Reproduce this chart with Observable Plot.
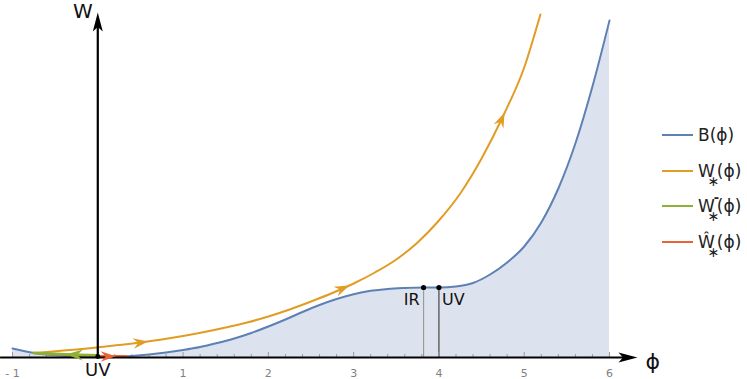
<!DOCTYPE html>
<html><head><meta charset="utf-8">
<script src="https://cdn.jsdelivr.net/npm/d3@7"></script>
<script src="https://cdn.jsdelivr.net/npm/@observablehq/plot@0.6"></script>
<style>
body{margin:0;background:#fff;}
#wrap{position:relative;width:747px;height:379px;font-family:"DejaVu Sans",sans-serif;}
#legend{position:absolute;left:662px;top:0;width:85px;height:379px;}
.row{position:absolute;left:0;height:30px;display:flex;align-items:center;white-space:nowrap;}
.sw{width:31px;height:2px;margin-right:5px;}
.lab{font-size:17px;color:#222;line-height:18px;white-space:nowrap;}
.ast{display:inline-block;position:relative;width:2px;height:17px;vertical-align:top;}
.ast .b{position:absolute;left:-7px;top:12px;font-size:14px;line-height:14px;}
.ast .a{position:absolute;left:-1px;top:-6px;font-size:13px;line-height:13px;font-weight:bold;}
</style></head><body><div id="wrap"><div id="legend"></div></div>
<script>
// ---- data ----
const phiB = [-1, -0.75, -0.5, -0.25, 0, 0.2, 0.4, 0.6, 0.8, 1.0, 1.2, 1.4, 1.6, 1.8, 2.0, 2.2, 2.4, 2.6, 2.8, 3.0, 3.2, 3.4, 3.6, 3.82, 4.0, 4.2, 4.4, 4.6, 4.8, 5.0, 5.2, 5.4, 5.6, 5.8, 6.0];
const valB = [0.09, 0.045, 0.022, 0.01, 0.005, 0.005, 0.015, 0.03, 0.05, 0.075, 0.105, 0.145, 0.19, 0.245, 0.31, 0.38, 0.455, 0.525, 0.585, 0.633, 0.667, 0.686, 0.695, 0.70, 0.70, 0.71, 0.745, 0.83, 0.95, 1.11, 1.35, 1.69, 2.14, 2.71, 3.37];

const phiW = [-0.73, -0.5, -0.25, 0, 0.25, 0.5, 0.75, 1.0, 1.25, 1.5, 1.75, 2.0, 2.25, 2.5, 2.75, 3.0, 3.25, 3.5, 3.75, 4.0, 4.25, 4.5, 4.75, 5.0, 5.19];
const valW = [0.045, 0.062, 0.08, 0.10, 0.125, 0.15, 0.18, 0.215, 0.255, 0.30, 0.35, 0.41, 0.48, 0.56, 0.645, 0.74, 0.85, 0.98, 1.15, 1.37, 1.64, 1.99, 2.41, 2.90, 3.43];

// W^-_* flows from phi=0 to the left
const phiWm = [0, -0.25, -0.5, -0.75];
const valWm = [0.02, 0.027, 0.035, 0.045];

// hat W_* flows from phi=0 to the right
const phiWh = [0, 0.15, 0.33];
const valWh = [0.01, 0.011, 0.012];

// arrow tips along flows
const arrowPhiW = [0.59, 2.95, 4.77];
const arrowPhiWm = [-0.375];
const arrowPhiWh = [0.21];

// special points
const pointLabels = ["IR", "UV"];
const pointPhi = [3.82, 4.0];
const pointW = [0.70, 0.70];
const originPoint = [0, 0.01];

// axes
const xAxisExtent = [-1.14, 6.328];
const yAxisExtent = [0, 3.45];
const majorTicks = [-1, 1, 2, 3, 4, 5, 6];
const minorTicks = d3.range(-1, 6.001, 0.2).map(v => +v.toFixed(1)).filter(v => Math.abs(v - Math.round(v)) > 1e-6);

const colors = {B: "#5e81b5", W: "#e19c24", Wm: "#8fb032", Wh: "#eb6235"};

const zip = (xs, ys) => xs.map((x, i) => ({x, y: ys[i]}));
const dataB = zip(phiB, valB), dataW = zip(phiW, valW), dataWm = zip(phiWm, valWm), dataWh = zip(phiWh, valWh);
const points = pointLabels.map((label, i) => ({label, x: pointPhi[i], y: pointW[i]}));

function arrowSymbol(L, W, notch) {
  return {draw(ctx) { ctx.moveTo(0, 0); ctx.lineTo(-L, -W / 2); ctx.lineTo(-L + notch, 0); ctx.lineTo(-L, W / 2); ctx.closePath(); }};
}
const flowArrow = arrowSymbol(15, 10.5, 5);
const bigFlowArrow = arrowSymbol(17, 11, 5.5);
const axisArrow = arrowSymbol(19, 10, 4.5);

function segIndex(xs, phi) {
  for (let i = 0; i < xs.length - 1; i++) if ((xs[i] - phi) * (xs[i + 1] - phi) <= 0) return i;
  return xs.length - 2;
}
function interp(xs, ys, phi) {
  const i = segIndex(xs, phi); const t = (phi - xs[i]) / (xs[i + 1] - xs[i]);
  return ys[i] + t * (ys[i + 1] - ys[i]);
}

const curve = "monotone-x";

function baseMarks() {
  return [
    Plot.areaY(dataB, {x: "x", y: "y", fill: "#dde3ee", curve}),
    Plot.ruleX(points, {x: "x", y1: 0, y2: "y", stroke: (d) => d.label, strokeWidth: 1.2}),
    Plot.axisX(minorTicks, {tickSize: 3, dy: -3, tickFormat: () => "", stroke: "#999", label: null}),
    Plot.axisX(majorTicks, {tickSize: 5, dy: -5, tickFormat: () => "", stroke: "#999", label: null}),
    Plot.text(majorTicks, {x: (d) => d, y: 0, text: (d) => d < 0 ? "- " + Math.abs(d) : String(d), dy: 16, fill: "#808080", fontSize: 11}),
    Plot.line(dataB, {x: "x", y: "y", stroke: colors.B, strokeWidth: 2, curve}),
    Plot.line(dataW, {x: "x", y: "y", stroke: colors.W, strokeWidth: 2, curve}),
    Plot.line(dataWm, {x: "x", y: "y", stroke: colors.Wm, strokeWidth: 2.8, curve}),
    Plot.line(dataWh, {x: "x", y: "y", stroke: colors.Wh, strokeWidth: 2.8, curve}),
    Plot.ruleY([0], {x1: xAxisExtent[0], x2: xAxisExtent[1] - 0.08, stroke: "black", strokeWidth: 2.2}),
    Plot.ruleX([0], {y1: yAxisExtent[0], y2: yAxisExtent[1] - 0.12, stroke: "black", strokeWidth: 2.2}),
    Plot.dot(points, {x: "x", y: "y", r: 2.6, fill: "black"}),
    Plot.dot([originPoint], {x: (d) => d[0], y: (d) => d[1], r: 2.4, fill: "black"}),
    Plot.text(points.slice(0, 1), {x: "x", y: "y", text: "label", textAnchor: "end", dx: -4, dy: 12, fontSize: 16, fill: "#111"}),
    Plot.text(points.slice(1), {x: "x", y: "y", text: "label", textAnchor: "start", dx: 3, dy: 12, fontSize: 16, fill: "#111"}),
    Plot.text(["UV"], {x: 0, y: 0, text: (d) => d, dy: 13, fontSize: 18, fill: "#111"}),
    Plot.text(["W"], {x: 0, y: yAxisExtent[1], text: (d) => d, textAnchor: "end", dx: -5, dy: -1, fontSize: 20, fill: "#111"}),
    Plot.text(["ϕ"], {x: xAxisExtent[1], y: 0, text: (d) => d, textAnchor: "start", dx: 8, dy: 4, fontSize: 22, fill: "#111"})
  ];
}

const config = (marks) => ({
  width: 747, height: 379,
  marginLeft: 12, marginRight: 138, marginTop: 12, marginBottom: 22,
  x: {domain: [-1, 6], axis: null},
  y: {domain: [0, 3.45], axis: null},
  color: {domain: ["IR", "UV"], range: ["#9a9a9a", "#444"]},
  style: {fontFamily: "DejaVu Sans, sans-serif", background: "transparent", overflow: "visible"},
  marks
});

// first pass: obtain the scales
const probe = Plot.plot(config(baseMarks()));
const lin = (s) => (v) => s.range[0] + (v - s.domain[0]) / (s.domain[1] - s.domain[0]) * (s.range[1] - s.range[0]);
const sx = lin(probe.scale("x")), sy = lin(probe.scale("y"));

function arrowsOn(xs, ys, phis) {
  return phis.map((phi) => {
    const i = segIndex(xs, phi);
    const dx = sx(xs[i + 1]) - sx(xs[i]), dy = sy(ys[i + 1]) - sy(ys[i]);
    return {x: phi, y: interp(xs, ys, phi), angle: Math.atan2(dy, dx) * 180 / Math.PI};
  });
}
const axisTips = [
  {x: xAxisExtent[1], y: 0, angle: 0},
  {x: 0, y: yAxisExtent[1], angle: -90}
];

const marks = baseMarks().concat([
  Plot.dot(arrowsOn(phiW, valW, arrowPhiW), {x: "x", y: "y", rotate: "angle", symbol: flowArrow, fill: colors.W, stroke: "none", r: 5}),
  Plot.dot(arrowsOn(phiWm, valWm, arrowPhiWm), {x: "x", y: "y", rotate: "angle", symbol: bigFlowArrow, fill: colors.Wm, stroke: "none", r: 5}),
  Plot.dot(arrowsOn(phiWh, valWh, arrowPhiWh), {x: "x", y: "y", rotate: "angle", symbol: flowArrow, fill: colors.Wh, stroke: "none", r: 5}),
  Plot.dot(axisTips, {x: "x", y: "y", rotate: "angle", symbol: axisArrow, fill: "black", stroke: "none", r: 5})
]);

const chart = Plot.plot(config(marks));
chart.style.position = "absolute";
chart.style.left = "0";
chart.style.top = "0";
document.getElementById("wrap").prepend(chart);

// legend
const legendItems = [
  {color: colors.B, html: "B(ϕ)"},
  {color: colors.W, html: "W<span class='ast'><span class='b'>∗</span></span>(ϕ)"},
  {color: colors.Wm, html: "W<span class='ast'><span class='a'>-</span><span class='b'>∗</span></span>(ϕ)"},
  {color: colors.Wh, html: "Ŵ<span class='ast'><span class='b'>∗</span></span>(ϕ)"}
];
const legendCenters = [135, 171, 206, 242];
const legend = document.getElementById("legend");
legendItems.forEach((item, i) => {
  const row = document.createElement("div");
  row.className = "row";
  row.style.top = (legendCenters[i] - 15) + "px";
  row.innerHTML = `<div class="sw" style="background:${item.color}"></div><span class="lab">${item.html}</span>`;
  legend.appendChild(row);
});
</script>
</body></html>
